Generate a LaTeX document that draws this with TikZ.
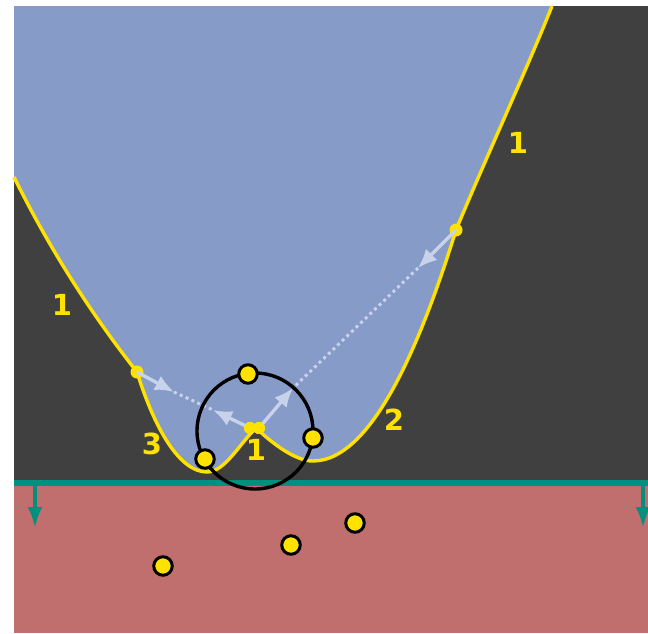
\documentclass[tikz,border=0pt]{standalone}
\usepackage{fontspec}
\setmainfont{DejaVu Sans}
\usetikzlibrary{arrows.meta}
\definecolor{skyC}{HTML}{869BC7}
\definecolor{darkC}{HTML}{404040}
\definecolor{redC}{HTML}{C06E6E}
\definecolor{tealC}{HTML}{00917E}
\definecolor{yelC}{HTML}{FFE200}
\definecolor{paleC}{HTML}{C8D2EA}
\tikzset{
  lbl/.style={text=yelC, font=\fontsize{29}{29}\selectfont\bfseries, inner sep=0pt},
  ydot/.style={circle, fill=yelC, inner sep=0pt, minimum size=13pt},
  bdot/.style={circle, fill=yelC, draw=black, line width=3pt, inner sep=0pt, minimum size=18.5pt},
  palearrow/.style={draw=paleC, line width=3.4pt, -{Latex[length=19pt,width=16pt]}},
  dotline/.style={draw=paleC, line width=3pt, dash pattern=on 3pt off 3.4pt},
  tealarrow/.style={draw=tealC, line width=4.5pt, -{Latex[length=21pt,width=15pt]}},
  curveline/.style={draw=yelC, line width=3.4pt, line join=round}
}
\def\wellpath{(14,177) .. controls (55,260) and (100,325) .. (137,372)
  .. controls (155,430) and (180,472) .. (207,472)
  .. controls (225,472) and (240,443) .. (256,428)
  .. controls (272,443) and (295,461) .. (313,461)
  .. controls (375,461) and (425,330) .. (456,230)
  .. controls (485,160) and (530,62) .. (552,6)}
\begin{document}
\begin{tikzpicture}[x=1pt,y=-1pt]
\useasboundingbox (0,0) rectangle (648,633);
% backgrounds
\fill[darkC] (14,6) rectangle (648,483);
\fill[skyC] (14,6) -- \wellpath -- cycle;
\draw[curveline] \wellpath;
\fill[redC] (14,486) rectangle (648,633);
% teal boundary
\coordinate (bl) at (14,483);
\coordinate (br) at (648,483);
\draw[tealC, line width=6pt] (bl) -- (br);
\coordinate (ta1) at (35,483);
\coordinate (tb1) at (35,528);
\coordinate (ta2) at (643,483);
\coordinate (tb2) at (643,528);
\draw[tealarrow] (ta1) -- (tb1);
\draw[tealarrow] (ta2) -- (tb2);
% labels
\node[lbl] (l1) at (62,305) {1};
\node[lbl] (l3) at (152,444) {3};
\node[lbl] (l1b) at (256,450) {1};
\node[lbl] (l2) at (394,420) {2};
\node[lbl] (l1c) at (518,143) {1};
% dotted guide lines and arrows
\coordinate (tL) at (174,392);
\coordinate (tPL) at (213,410);
\coordinate (tR) at (418,268);
\coordinate (tPR) at (293,388);
\draw[dotline] (tL) -- (tPL);
\draw[dotline] (tR) -- (tPR);
\node[ydot] (dL) at (137,372) {};
\node[ydot] (dR) at (456,230) {};
\draw[palearrow] (dL.center) -- (tL);
\draw[palearrow] (dR.center) -- (tR);
\node[ydot, minimum size=12pt] (pk1) at (250,428) {};
\node[ydot, minimum size=12pt] (pk2) at (259,428) {};
\draw[palearrow] (pk1.center) -- (tPL);
\draw[palearrow] (pk2.center) -- (tPR);
\node[ydot, minimum size=12pt] at (250,428) {};
\node[ydot, minimum size=12pt] at (259,428) {};
% ring
\node[circle, draw=black, line width=3.4pt, minimum size=116pt, inner sep=0pt] (ring) at (255,431) {};
\node[bdot] (c1) at (248,374) {};
\node[bdot] (c2) at (313,438) {};
\node[bdot] (c3) at (205,459) {};
% points below
\node[bdot] (p1) at (163,566) {};
\node[bdot] (p2) at (291,545) {};
\node[bdot] (p3) at (355,523) {};
\end{tikzpicture}
\end{document}
